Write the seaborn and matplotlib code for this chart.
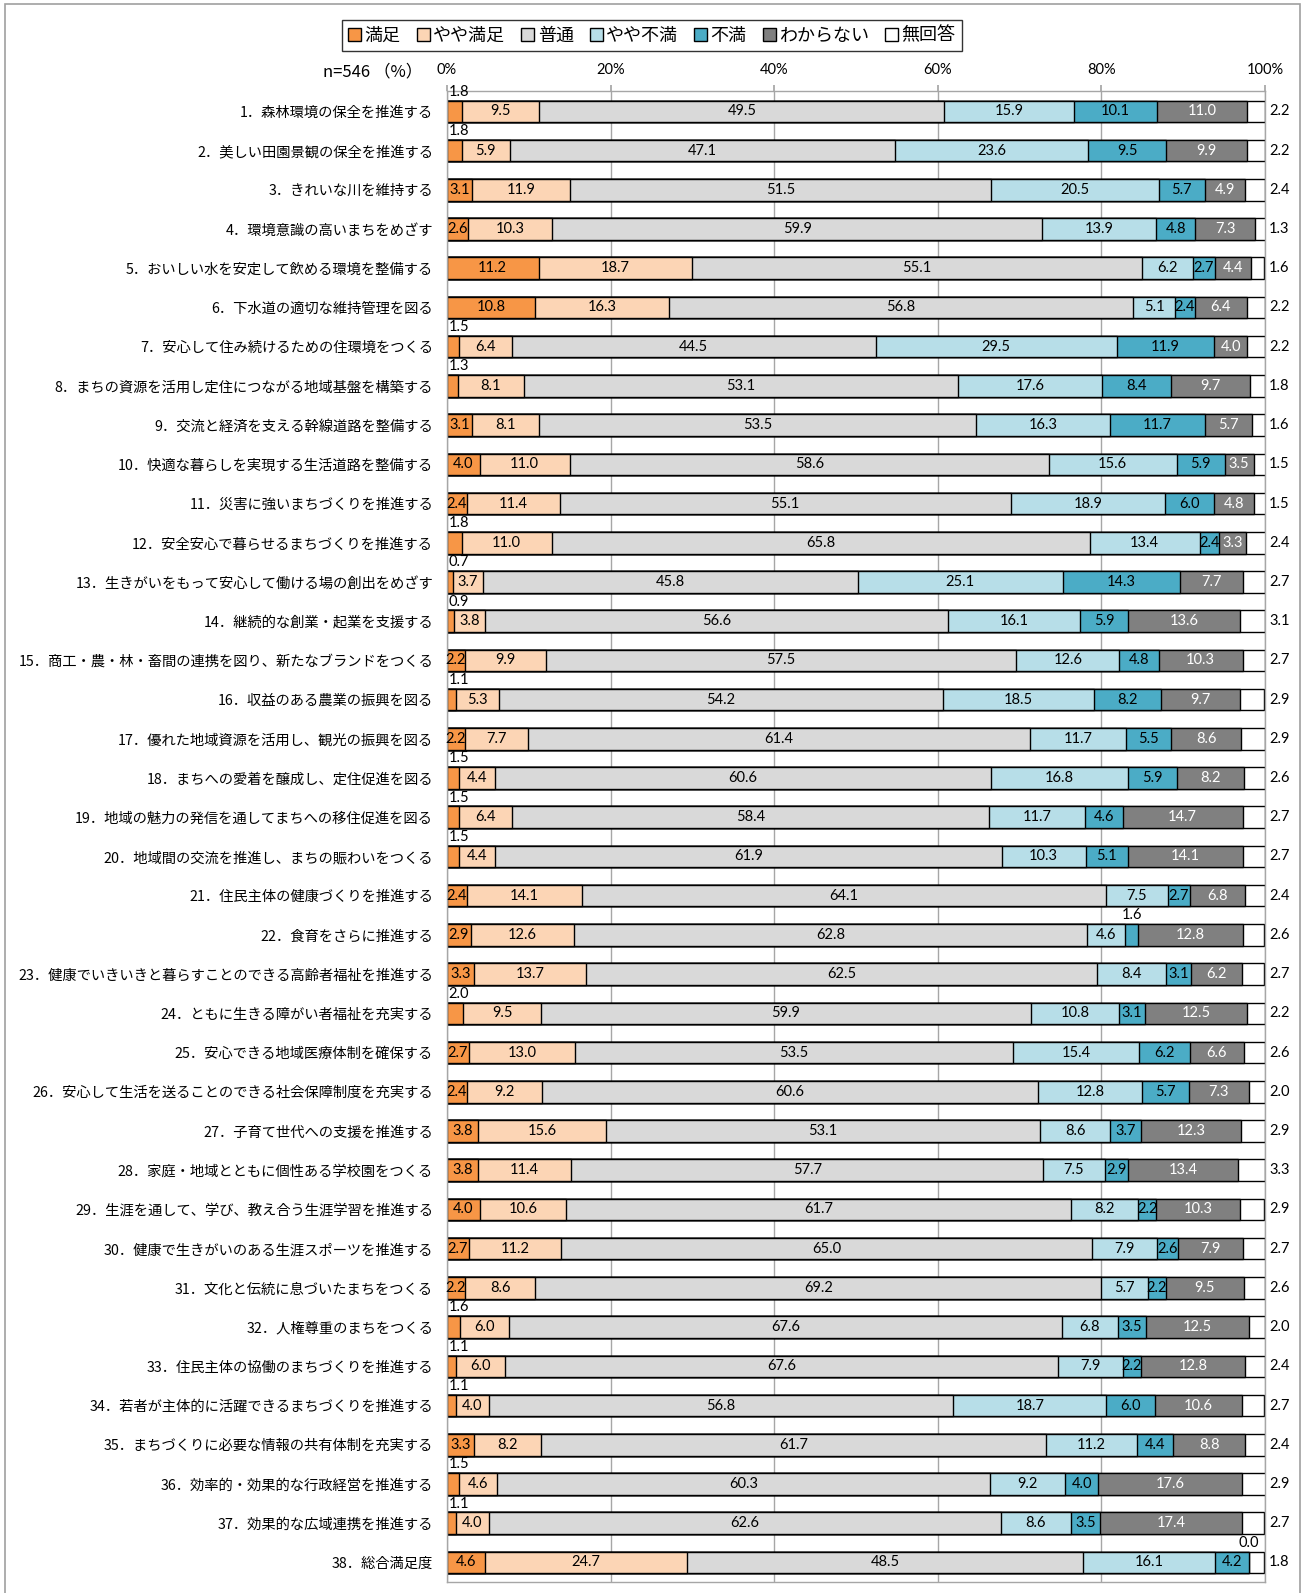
import matplotlib
matplotlib.use("Agg")
import matplotlib.pyplot as plt
from matplotlib.patches import Patch, Rectangle
import seaborn as sns
import pandas as pd
import numpy as np

items = [
    "1．森林環境の保全を推進する",
    "2．美しい田園景観の保全を推進する",
    "3．きれいな川を維持する",
    "4．環境意識の高いまちをめざす",
    "5．おいしい水を安定して飲める環境を整備する",
    "6．下水道の適切な維持管理を図る",
    "7．安心して住み続けるための住環境をつくる",
    "8．まちの資源を活用し定住につながる地域基盤を構築する",
    "9．交流と経済を支える幹線道路を整備する",
    "10．快適な暮らしを実現する生活道路を整備する",
    "11．災害に強いまちづくりを推進する",
    "12．安全安心で暮らせるまちづくりを推進する",
    "13．生きがいをもって安心して働ける場の創出をめざす",
    "14．継続的な創業・起業を支援する",
    "15．商工・農・林・畜間の連携を図り、新たなブランドをつくる",
    "16．収益のある農業の振興を図る",
    "17．優れた地域資源を活用し、観光の振興を図る",
    "18．まちへの愛着を醸成し、定住促進を図る",
    "19．地域の魅力の発信を通してまちへの移住促進を図る",
    "20．地域間の交流を推進し、まちの賑わいをつくる",
    "21．住民主体の健康づくりを推進する",
    "22．食育をさらに推進する",
    "23．健康でいきいきと暮らすことのできる高齢者福祉を推進する",
    "24．ともに生きる障がい者福祉を充実する",
    "25．安心できる地域医療体制を確保する",
    "26．安心して生活を送ることのできる社会保障制度を充実する",
    "27．子育て世代への支援を推進する",
    "28．家庭・地域とともに個性ある学校園をつくる",
    "29．生涯を通して、学び、教え合う生涯学習を推進する",
    "30．健康で生きがいのある生涯スポーツを推進する",
    "31．文化と伝統に息づいたまちをつくる",
    "32．人権尊重のまちをつくる",
    "33．住民主体の協働のまちづくりを推進する",
    "34．若者が主体的に活躍できるまちづくりを推進する",
    "35．まちづくりに必要な情報の共有体制を充実する",
    "36．効率的・効果的な行政経営を推進する",
    "37．効果的な広域連携を推進する",
    "38．総合満足度",
]

series_names = ["満足", "やや満足", "普通", "やや不満", "不満", "わからない", "無回答"]

manzoku = [1.8, 1.8, 3.1, 2.6, 11.2, 10.8, 1.5, 1.3, 3.1, 4.0, 2.4, 1.8, 0.7,
           0.9, 2.2, 1.1, 2.2, 1.5, 1.5, 1.5, 2.4, 2.9, 3.3, 2.0, 2.7, 2.4,
           3.8, 3.8, 4.0, 2.7, 2.2, 1.6, 1.1, 1.1, 3.3, 1.5, 1.1, 4.6]
yaya_manzoku = [9.5, 5.9, 11.9, 10.3, 18.7, 16.3, 6.4, 8.1, 8.1, 11.0, 11.4,
                11.0, 3.7, 3.8, 9.9, 5.3, 7.7, 4.4, 6.4, 4.4, 14.1, 12.6, 13.7,
                9.5, 13.0, 9.2, 15.6, 11.4, 10.6, 11.2, 8.6, 6.0, 6.0, 4.0,
                8.2, 4.6, 4.0, 24.7]
futsu = [49.5, 47.1, 51.5, 59.9, 55.1, 56.8, 44.5, 53.1, 53.5, 58.6, 55.1,
         65.8, 45.8, 56.6, 57.5, 54.2, 61.4, 60.6, 58.4, 61.9, 64.1, 62.8,
         62.5, 59.9, 53.5, 60.6, 53.1, 57.7, 61.7, 65.0, 69.2, 67.6, 67.6,
         56.8, 61.7, 60.3, 62.6, 48.5]
yaya_fuman = [15.9, 23.6, 20.5, 13.9, 6.2, 5.1, 29.5, 17.6, 16.3, 15.6, 18.9,
              13.4, 25.1, 16.1, 12.6, 18.5, 11.7, 16.8, 11.7, 10.3, 7.5, 4.6,
              8.4, 10.8, 15.4, 12.8, 8.6, 7.5, 8.2, 7.9, 5.7, 6.8, 7.9, 18.7,
              11.2, 9.2, 8.6, 16.1]
fuman = [10.1, 9.5, 5.7, 4.8, 2.7, 2.4, 11.9, 8.4, 11.7, 5.9, 6.0, 2.4, 14.3,
         5.9, 4.8, 8.2, 5.5, 5.9, 4.6, 5.1, 2.7, 1.6, 3.1, 3.1, 6.2, 5.7, 3.7,
         2.9, 2.2, 2.6, 2.2, 3.5, 2.2, 6.0, 4.4, 4.0, 3.5, 4.2]
wakaranai = [11.0, 9.9, 4.9, 7.3, 4.4, 6.4, 4.0, 9.7, 5.7, 3.5, 4.8, 3.3, 7.7,
             13.6, 10.3, 9.7, 8.6, 8.2, 14.7, 14.1, 6.8, 12.8, 6.2, 12.5, 6.6,
             7.3, 12.3, 13.4, 10.3, 7.9, 9.5, 12.5, 12.8, 10.6, 8.8, 17.6,
             17.4, 0.0]
mukaitou = [2.2, 2.2, 2.4, 1.3, 1.6, 2.2, 2.2, 1.8, 1.6, 1.5, 1.5, 2.4, 2.7,
            3.1, 2.7, 2.9, 2.9, 2.6, 2.7, 2.7, 2.4, 2.6, 2.7, 2.2, 2.6, 2.0,
            2.9, 3.3, 2.9, 2.7, 2.6, 2.0, 2.4, 2.7, 2.4, 2.9, 2.7, 1.8]

colors = ["#F79646", "#FCD5B5", "#D9D9D9", "#B7DEE8", "#4BACC6", "#808080", "#FFFFFF"]

sns.set_theme(style="white")
plt.rcParams["font.family"] = ["Noto Sans CJK JP", "DejaVu Sans"]
plt.rcParams["text.color"] = "black"
plt.rcParams["xtick.color"] = "black"
plt.rcParams["ytick.color"] = "black"

num_font = ["Lato", "DejaVu Sans"]

fig = plt.figure(figsize=(13.03, 15.93), dpi=100)
ax = fig.add_axes([0.343, 0.0069, 0.6278, 0.9360])

series = [manzoku, yaya_manzoku, futsu, yaya_fuman, fuman, wakaranai, mukaitou]
cum = np.cumsum(np.array(series), axis=0)

# stacked bars: draw longest cumulative first, shorter ones on top
for k in range(len(series) - 1, -1, -1):
    df = pd.DataFrame({"item": items, "value": cum[k]})
    sns.barplot(data=df, x="value", y="item", color=colors[k], saturation=1,
                width=0.55, edgecolor="black", linewidth=1, ax=ax, zorder=2)

# value labels
fs = 10.5
for i in range(len(items)):
    for k, vals in enumerate(series):
        v = vals[i]
        left = cum[k][i] - v
        txt = f"{v:.1f}"
        kw = dict(va="center", fontsize=fs, family=num_font)
        if k == 6:
            ax.text(100.5, i, txt, ha="left", **kw)
        elif k == 0 and v < 2.1:
            ax.text(0.2, i - 0.5, txt, ha="left", **kw)
        elif v == 0:
            ax.text(left + 1.2, i - 0.5, txt, ha="right", **kw)
        elif v < 2.1:
            ax.text(left + v / 2, i - 0.5, txt, ha="center", **kw)
        else:
            ax.text(left + v / 2, i, txt, ha="center", zorder=3,
                    color="white" if k == 5 else "black", **kw)

ax.set_xlim(0, 100)
ax.set_ylim(37.5, -0.52)
ax.set_xlabel("")
ax.set_ylabel("")
ax.set_axisbelow(True)
ax.xaxis.grid(True, color="#A6A6A6", linewidth=1)
ax.yaxis.grid(False)
ax.xaxis.tick_top()
ax.set_xticks([0, 20, 40, 60, 80, 100])
ax.set_xticklabels([f"{t}%" for t in [0, 20, 40, 60, 80, 100]], family=num_font)
ax.tick_params(axis="x", which="both", top=True, bottom=False, length=4,
               direction="out", color="#A6A6A6", labelsize=10.5, pad=6)
ax.tick_params(axis="y", length=0, labelsize=10.3, pad=10)
for side in ["left", "top", "bottom", "right"]:
    ax.spines[side].set_visible(True)
    ax.spines[side].set_color("#A6A6A6")
    ax.spines[side].set_linewidth(1)

handles = [Patch(facecolor=c, edgecolor="black", linewidth=1) for c in colors]
fig.legend(handles, series_names, loc="center", bbox_to_anchor=(0.5004, 0.9777),
           ncol=7, frameon=True, fancybox=False, edgecolor="black", fontsize=13,
           handlelength=0.7, handleheight=0.7, handletextpad=0.2,
           columnspacing=0.9, borderpad=0.35)

fig.text(0.324, 0.9548, "n=546 （%）", ha="right", va="center", fontsize=12)

fig.add_artist(Rectangle((5 / 1303, -0.01), 1295 / 1303, 1.01 - 4 / 1593,
                         transform=fig.transFigure, fill=False,
                         edgecolor="#A0A0A0", linewidth=1.2))

fig.savefig("out.png", dpi=100)
